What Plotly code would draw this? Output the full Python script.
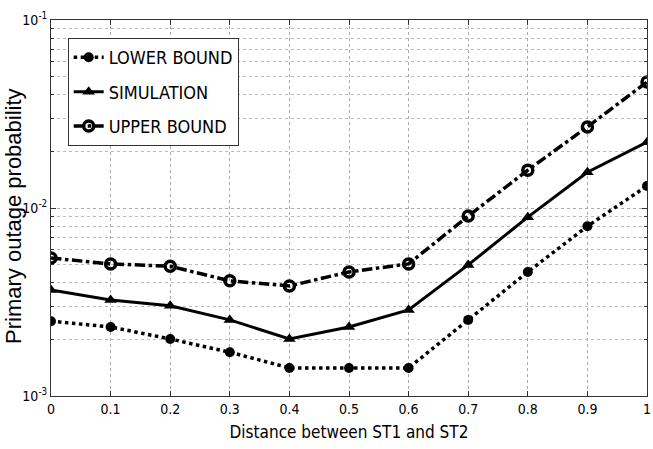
import plotly.graph_objects as go

# Distance between ST1 and ST2
distance = [0, 0.1, 0.2, 0.3, 0.4, 0.5, 0.6, 0.7, 0.8, 0.9, 1.0]

# Primary outage probability for each curve
lower_bound = [0.0025, 0.00233, 0.00201, 0.00171, 0.00141, 0.00141, 0.00141, 0.00254, 0.00457, 0.0080, 0.0131]
simulation = [0.00366, 0.00324, 0.00302, 0.00254, 0.00201, 0.00233, 0.00287, 0.00498, 0.00894, 0.0155, 0.0224]
upper_bound = [0.00542, 0.00504, 0.0049, 0.0041, 0.00385, 0.00457, 0.00504, 0.00906, 0.0159, 0.0270, 0.0468]

x_ticks = [0, 0.1, 0.2, 0.3, 0.4, 0.5, 0.6, 0.7, 0.8, 0.9, 1.0]
x_tick_text = ["0", "0.1", "0.2", "0.3", "0.4", "0.5", "0.6", "0.7", "0.8", "0.9", "1"]
y_major = [1e-3, 1e-2, 1e-1]
y_major_text = ["10<sup>-3</sup>", "10<sup>-2</sup>", "10<sup>-1</sup>"]
y_minor = [m * 10 ** e for e in (-3, -2) for m in range(2, 10)]

FONT = "DejaVu Sans Condensed, Liberation Sans Narrow, Liberation Sans, Arial, sans-serif"

fig = go.Figure()
fig.add_trace(go.Scatter(
    x=distance, y=lower_bound, name="LOWER BOUND", mode="lines+markers",
    legendgroup="lb",
    line=dict(color="black", width=3.5, dash="dot"),
    marker=dict(symbol="circle", size=10, color="black"),
))
fig.add_trace(go.Scatter(
    x=distance, y=simulation, name="SIMULATION", mode="lines+markers",
    legendgroup="sim",
    line=dict(color="black", width=3),
    marker=dict(symbol="triangle-up", size=11, color="black"),
))
fig.add_trace(go.Scatter(
    x=distance, y=upper_bound, name="UPPER BOUND", mode="lines+markers",
    legendgroup="ub",
    line=dict(color="black", width=3.5, dash="dashdot"),
    marker=dict(symbol="circle-open", size=10, color="black", line=dict(width=3.5)),
))

fig.update_layout(
    width=653, height=449,
    margin=dict(l=51, r=2, t=20, b=53),
    paper_bgcolor="white", plot_bgcolor="white",
    font=dict(family=FONT, color="black", size=13),
    showlegend=True,
    legend=dict(
        x=0.028, y=0.952, xanchor="left", yanchor="top",
        bgcolor="white", bordercolor="#333", borderwidth=1,
        font=dict(family=FONT, size=18, color="black"),
        itemwidth=30, tracegroupgap=8,
    ),
)

# Y-axis title placed as a rotated annotation beside the tick labels
fig.add_annotation(
    text="Primary outage probability", textangle=-90,
    xref="paper", yref="paper", x=-0.063, y=0.48,
    xanchor="center", yanchor="middle", showarrow=False,
    font=dict(family="Liberation Sans, Arial, sans-serif", size=22, color="black"),
)

fig.update_xaxes(
    range=[0, 1], tickvals=x_ticks, ticktext=x_tick_text,
    ticklabeloverflow="allow",
    ticks="inside", ticklen=5, tickcolor="#333",
    showline=True, linecolor="#333", linewidth=1, mirror="ticks",
    showgrid=True, gridcolor="#aaa", griddash="dot", gridwidth=1,
    zeroline=False,
    tickfont=dict(family=FONT, size=14),
    title=dict(text="Distance between ST1 and ST2", font=dict(family=FONT, size=17), standoff=10),
)
fig.update_yaxes(
    type="log", range=[-3, -1], tickvals=y_major, ticktext=y_major_text,
    ticks="inside", ticklen=5, tickcolor="#333",
    showline=True, linecolor="#333", linewidth=1, mirror="ticks",
    showgrid=True, gridcolor="#aaa", griddash="dot", gridwidth=1,
    zeroline=False,
    minor=dict(tickvals=y_minor, ticks="inside", ticklen=3, tickcolor="#333",
               showgrid=True, gridcolor="#bbb", griddash="dot", gridwidth=1),
    tickfont=dict(family=FONT, size=14),
)

fig.write_html("out.html")
